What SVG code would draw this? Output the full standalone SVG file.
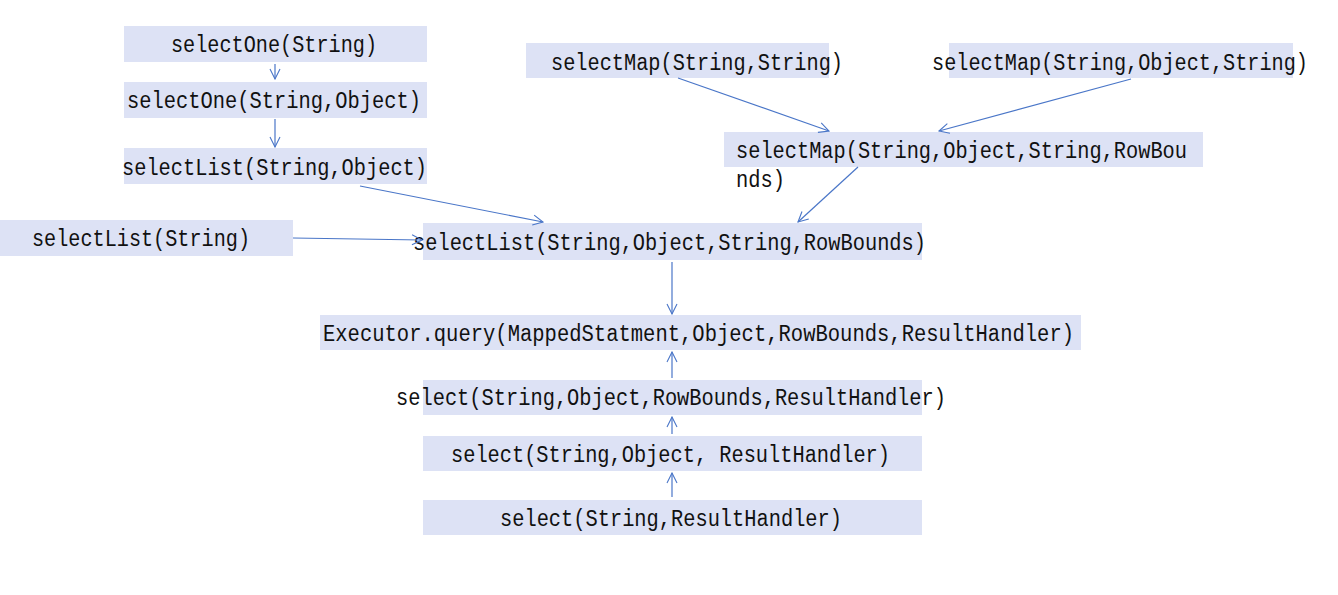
<svg xmlns="http://www.w3.org/2000/svg" width="1338" height="595" viewBox="0 0 1338 595">
<style>
.box{fill:#dde2f5}
.t{font-family:"Liberation Mono","DejaVu Sans Mono",monospace;font-size:23px;fill:#111}
.c{stroke:#4a76c8;stroke-width:1.2;fill:none;marker-end:url(#ah)}
</style>
<defs>
<marker id="ah" viewBox="0 0 12 12" refX="11" refY="6" markerWidth="12" markerHeight="12" markerUnits="userSpaceOnUse" orient="auto">
<path d="M1,1 L11,6 L1,11" fill="none" stroke="#4a76c8" stroke-width="1.1"/>
</marker>
</defs>
<rect width="1338" height="595" fill="#fff"/>
<g id="n1"><rect class="box" x="124" y="26" width="303" height="36"/><text class="t" x="171" y="52" textLength="206" lengthAdjust="spacingAndGlyphs">selectOne(String)</text></g>
<g id="n2"><rect class="box" x="124" y="82" width="303" height="36"/><text class="t" x="127" y="108" textLength="294" lengthAdjust="spacingAndGlyphs">selectOne(String,Object)</text></g>
<g id="n3"><rect class="box" x="124" y="148" width="303" height="36"/><text class="t" x="122" y="175" textLength="305" lengthAdjust="spacingAndGlyphs">selectList(String,Object)</text></g>
<g id="n4"><rect class="box" x="0" y="220" width="293" height="36"/><text class="t" x="32" y="246" textLength="218" lengthAdjust="spacingAndGlyphs">selectList(String)</text></g>
<g id="n5"><rect class="box" x="423" y="223" width="499" height="37"/><text class="t" x="413" y="250" textLength="513" lengthAdjust="spacingAndGlyphs">selectList(String,Object,String,RowBounds)</text></g>
<g id="n6"><rect class="box" x="320" y="315" width="761" height="35"/><text class="t" x="323" y="341" textLength="751" lengthAdjust="spacingAndGlyphs">Executor.query(MappedStatment,Object,RowBounds,ResultHandler)</text></g>
<g id="n7"><rect class="box" x="423" y="380" width="499" height="35"/><text class="t" x="396" y="405" textLength="550" lengthAdjust="spacingAndGlyphs">select(String,Object,RowBounds,ResultHandler)</text></g>
<g id="n8"><rect class="box" x="423" y="436" width="499" height="35"/><text class="t" x="451" y="462" textLength="439" lengthAdjust="spacingAndGlyphs">select(String,Object, ResultHandler)</text></g>
<g id="n9"><rect class="box" x="423" y="500" width="499" height="35"/><text class="t" x="500" y="526" textLength="342" lengthAdjust="spacingAndGlyphs">select(String,ResultHandler)</text></g>
<g id="n10"><rect class="box" x="526" y="43" width="303" height="35"/><text class="t" x="551" y="70" textLength="292" lengthAdjust="spacingAndGlyphs">selectMap(String,String)</text></g>
<g id="n11"><rect class="box" x="949" y="43" width="344" height="35"/><text class="t" x="932" y="70" textLength="376" lengthAdjust="spacingAndGlyphs">selectMap(String,Object,String)</text></g>
<g id="n12"><rect class="box" x="724" y="132" width="479" height="35"/><text class="t" x="736" y="158" textLength="451" lengthAdjust="spacingAndGlyphs">selectMap(String,Object,String,RowBou</text><text class="t" x="736" y="187" textLength="49" lengthAdjust="spacingAndGlyphs">nds)</text></g>
<g id="connectors">
<line class="c" x1="275" y1="64" x2="275" y2="79"/>
<line class="c" x1="275" y1="119" x2="275" y2="147"/>
<line class="c" x1="360" y1="186" x2="543" y2="222"/>
<line class="c" x1="293" y1="238" x2="422" y2="240"/>
<line class="c" x1="678" y1="78" x2="829" y2="131"/>
<line class="c" x1="1131" y1="79" x2="939" y2="131"/>
<line class="c" x1="858" y1="167" x2="798" y2="222"/>
<line class="c" x1="672" y1="262" x2="672" y2="314"/>
<line class="c" x1="672" y1="378" x2="672" y2="352"/>
<line class="c" x1="672" y1="434" x2="672" y2="417"/>
<line class="c" x1="672" y1="497" x2="672" y2="473"/>
</g>
</svg>
